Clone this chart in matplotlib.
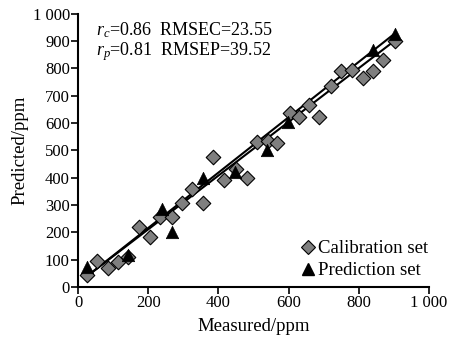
import numpy as np
from matplotlib import pyplot as plt
from matplotlib.lines import Line2D
from matplotlib.ticker import FuncFormatter

# calibration set (diamonds)
cal_measured = [26, 54, 85, 114, 142, 174, 205, 234, 268, 296, 325, 356, 385, 416, 450,
                481, 510, 541, 567, 604, 630, 658, 687, 722, 750, 781, 812, 840, 869, 905]
cal_predicted = [44, 95, 68, 93, 110, 220, 184, 258, 258, 308, 358, 307, 476, 390, 432,
                 399, 532, 536, 527, 637, 624, 667, 621, 737, 790, 795, 766, 789, 831, 902]

# prediction set (triangles)
pred_measured = [26, 142, 238, 268, 356, 447, 538, 598, 840, 903]
pred_predicted = [73, 117, 285, 203, 398, 421, 502, 604, 868, 927]

# fitted lines (end points)
fit_cal_x = [30, 897]
fit_cal_y = [44, 922]
fit_pred_x = [30, 905]
fit_pred_y = [44, 904]

plt.rcParams['font.family'] = ['Liberation Serif', 'DejaVu Serif']
plt.rcParams['mathtext.fontset'] = 'custom'
plt.rcParams['mathtext.rm'] = 'Liberation Serif'
plt.rcParams['mathtext.it'] = 'Liberation Serif:italic'

fig = plt.figure(figsize=(4.49, 3.38), dpi=100)
ax = fig.add_axes([0.174, 0.151, 0.781, 0.808])

ax.plot(fit_cal_x, fit_cal_y, color='black', lw=1.5, zorder=2)
ax.plot(fit_pred_x, fit_pred_y, color='black', lw=1.5, zorder=2)

ax.scatter(cal_measured, cal_predicted, marker='D', s=55, facecolor='#7f7f7f',
           edgecolor='black', linewidth=0.8, zorder=3)
ax.scatter(pred_measured, pred_predicted, marker='^', s=80, facecolor='black',
           edgecolor='black', linewidth=0.5, zorder=4)

ax.set_xlim(0, 1000)
ax.set_ylim(0, 1000)
ax.set_xticks(np.arange(0, 1001, 200))
ax.set_yticks(np.arange(0, 1001, 100))

fmt = FuncFormatter(lambda v, p: '1 000' if v >= 1000 else '%d' % v)
ax.xaxis.set_major_formatter(fmt)
ax.yaxis.set_major_formatter(fmt)

for side in ['top', 'right']:
    ax.spines[side].set_visible(False)
for side in ['left', 'bottom']:
    ax.spines[side].set_linewidth(1.5)
ax.tick_params(direction='out', length=5, width=1.2, labelsize=12, pad=1)

ax.set_xlabel('Measured/ppm', fontsize=13.5, labelpad=5)
ax.set_ylabel('Predicted/ppm', fontsize=13.5, labelpad=3)

ax.text(0.05, 0.975, r'$r_c$=0.86  RMSEC=23.55', transform=ax.transAxes,
        fontsize=13, va='top', ha='left')
ax.text(0.05, 0.905, r'$r_p$=0.81  RMSEP=39.52', transform=ax.transAxes,
        fontsize=13, va='top', ha='left')

handles = [
    Line2D([], [], ls='none', marker='D', markersize=7, markerfacecolor='#7f7f7f',
           markeredgecolor='black', markeredgewidth=0.8),
    Line2D([], [], ls='none', marker='^', markersize=9, markerfacecolor='black',
           markeredgecolor='black'),
]
ax.legend(handles, ['Calibration set', 'Prediction set'], loc='lower right',
          bbox_to_anchor=(1.035, -0.02), frameon=False, fontsize=13.5,
          handlelength=0.6, handletextpad=0.25, labelspacing=0.25, borderpad=0.2)

fig.savefig('out.png', dpi=100)
